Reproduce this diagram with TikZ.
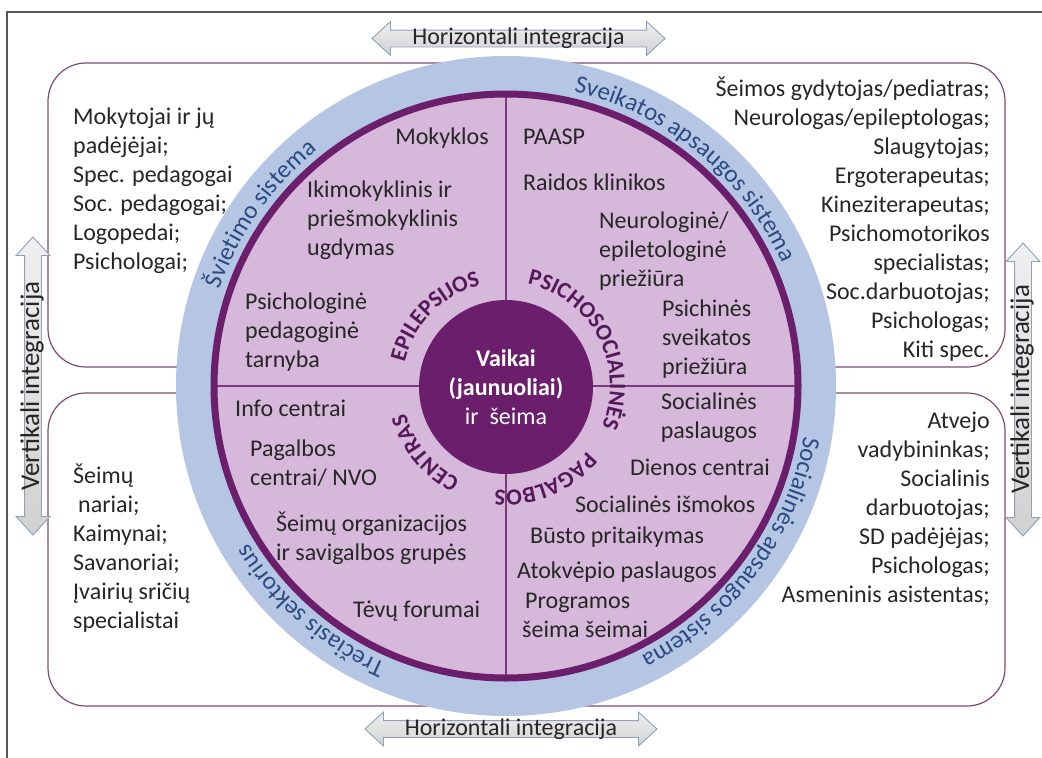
\documentclass[tikz,border=0pt]{standalone}
\usepackage{fontspec}
\setmainfont{Carlito}
\usetikzlibrary{decorations.text,shapes.arrows}
\definecolor{ringblue}{HTML}{B4C6E4}
\definecolor{lilac}{HTML}{D6B8DA}
\definecolor{plum}{HTML}{6B1E6B}
\definecolor{divider}{HTML}{7A3A7C}
\definecolor{ringtext}{HTML}{2B4A82}
\definecolor{plumtext}{HTML}{55185A}
\definecolor{zoneline}{HTML}{804A70}
\definecolor{ink}{HTML}{262626}
\definecolor{arrowline}{HTML}{8EA0BA}
\definecolor{framegray}{HTML}{555555}
\newcommand\ringfont{\fontsize{25}{25}\selectfont\color{ringtext}}
\newcommand\capfont{\fontsize{23}{23}\selectfont\bfseries\color{plumtext}}
\begin{document}
\begin{tikzpicture}[x=1pt, y=-1pt,
		lbl/.style = {font=\fontsize{24}{29}\selectfont, text=ink, inner sep=0pt, align=left},
		zone/.style = {draw=zoneline, line width=1.2pt, rounded corners=38pt},
		hub/.style = {circle, fill=plum, text=white, minimum size=174pt, inner sep=0pt, align=center, font=\fontsize{24}{29}\selectfont},
		arrowbox/.style = {double arrow, draw=arrowline, line width=0.9pt, top color=white!94!black, bottom color=white!82!black,
			double arrow head extend=8.5pt, double arrow tip angle=85, minimum width=33pt,
			inner xsep=0pt, inner ysep=0pt, text height=14pt, text depth=2pt, text=ink},
		ring/.style = {decorate, decoration={text along path, text align=center, text={#1}}}]
	\useasboundingbox (0,0) rectangle (1042,758);
	\draw[framegray, line width=1.2pt] (7,758) -- (7,12) -- (1042,12);
	\draw[zone] (48,63) rectangle (1005,367);
	\draw[zone] (48,393) rectangle (1005,706);

	\fill[ringblue] (506,386) circle[radius=330];
	\fill[lilac] (506,386) circle[radius=292];
	\draw[divider, line width=1.3pt] (506,94) -- (506,678);
	\draw[divider, line width=1.3pt] (214,386) -- (798,386);
	\draw[plum, line width=7pt] (506,386) circle[radius=292];
	\node[hub] (hub) at (506,387) {\textbf{Vaikai}\\\textbf{(jaunuoliai)}\\ir\ \ šeima};

	\path[ring={|\ringfont|Švietimo sistema}] (506,386) ++(-185:302) arc[start angle=-185, end angle=-105, radius=302];
	\path[ring={|\ringfont|Sveikatos apsaugos sistema}] (506,386) ++(-90.5:302) arc[start angle=-90.5, end angle=-10.5, radius=302];
	\path[ring={|\ringfont|Socialinės apsaugos sistema}] (506,386) ++(-3.5:302) arc[start angle=-3.5, end angle=76.5, radius=302];
	\path[ring={|\ringfont|Trečiasis sektorius}] (506,386) ++(-269:302) arc[start angle=-269, end angle=-189, radius=302];

	\path[ring={|\capfont|EPILEPSIJOS}] (506,386) ++(-180.5:104) arc[start angle=-180.5, end angle=-90.5, radius=104];
	\path[ring={|\capfont|PSICHOSOCIALINĖS}] (506,386) ++(-92.75:104) arc[start angle=-92.75, end angle=37.25, radius=104];
	\path[ring={|\capfont|PAGALBOS}] (506,386) ++(22.5:104) arc[start angle=22.5, end angle=112.5, radius=104];
	\path[ring={|\capfont|CENTRAS}] (506,386) ++(-264.5:104) arc[start angle=-264.5, end angle=-174.5, radius=104];

	\node[lbl, anchor=base] (mokyklos) at (442,144) {Mokyklos};
	\node[lbl, anchor=base west] (ikimok) at (307,255) {Ikimokyklinis ir\\priešmokyklinis\\ugdymas};
	\node[lbl, anchor=base west] (ppt) at (245,367) {Psichologinė\\pedagoginė\\tarnyba};
	\node[lbl, anchor=base west] (paasp) at (523,144) {PAASP};
	\node[lbl, anchor=base west] (raidos) at (523,190) {Raidos klinikos};
	\node[lbl, anchor=base west] (neuro) at (599,286) {Neurologinė/\\epiletologinė\\priežiūra};
	\node[lbl, anchor=base west] (psichines) at (662,374) {Psichinės\\sveikatos\\priežiūra};
	\node[lbl, anchor=base west] (info) at (235,416) {Info centrai};
	\node[lbl, anchor=base west] (pagalbos) at (250,485) {Pagalbos\\centrai/ NVO};
	\node[lbl, anchor=base west] (seimu) at (276,560) {Šeimų organizacijos\\ir savigalbos grupės};
	\node[lbl, anchor=base west] (tevu) at (353,617) {Tėvų forumai};
	\node[lbl, anchor=base, align=center] (soc) at (709,438) {Socialinės\\paslaugos};
	\node[lbl, anchor=base west] (dienos) at (630,475) {Dienos centrai};
	\node[lbl, anchor=base west] (ismokos) at (575,512) {Socialinės išmokos};
	\node[lbl, anchor=base west] (busto) at (530,543) {Būsto pritaikymas};
	\node[lbl, anchor=base west] (atokv) at (517,578) {Atokvėpio paslaugos};
	\node[lbl, anchor=base west] (programos) at (522,637) {\hspace{3pt}Programos\\šeima šeimai};

	\node[lbl, anchor=base west] (svietimas) at (73,269) {Mokytojai ir jų\\padėjėjai;\\Spec. pedagogai\\Soc. pedagogai;\\Logopedai;\\Psichologai;};
	\node[lbl, anchor=base east, align=right] (sveikata) at (990,357) {Šeimos gydytojas/pediatras;\\Neurologas/epileptologas;\\Slaugytojas;\\Ergoterapeutas;\\Kineziterapeutas;\\Psichomotorikos\\specialistas;\\Soc.darbuotojas;\\Psichologas;\\Kiti spec.};
	\node[lbl, anchor=base west] (sektorius) at (73,628) {Šeimų\\\hspace{5pt}nariai;\\Kaimynai;\\Savanoriai;\\Įvairių sričių\\specialistai};
	\node[lbl, anchor=base east, align=right] (socapsauga) at (990,602) {Atvejo\\vadybininkas;\\Socialinis\\darbuotojas;\\SD padėjėjas;\\Psichologas;\\Asmeninis asistentas;};

	\node[arrowbox, minimum height=293pt, font=\fontsize{24}{24}\selectfont] (htop) at (518.5,38.5) {Horizontali integracija};
	\node[arrowbox, minimum height=292pt, font=\fontsize{24}{24}\selectfont] (hbottom) at (511,729) {Horizontali integracija};
	\node[arrowbox, minimum height=298pt, rotate=90, font=\fontsize{27}{27}\selectfont] (vleft) at (33,386) {Vertikali integracija};
	\node[arrowbox, minimum height=293pt, rotate=90, font=\fontsize{27}{27}\selectfont] (vright) at (1023,389.5) {Vertikali integracija};
\end{tikzpicture}
\end{document}
